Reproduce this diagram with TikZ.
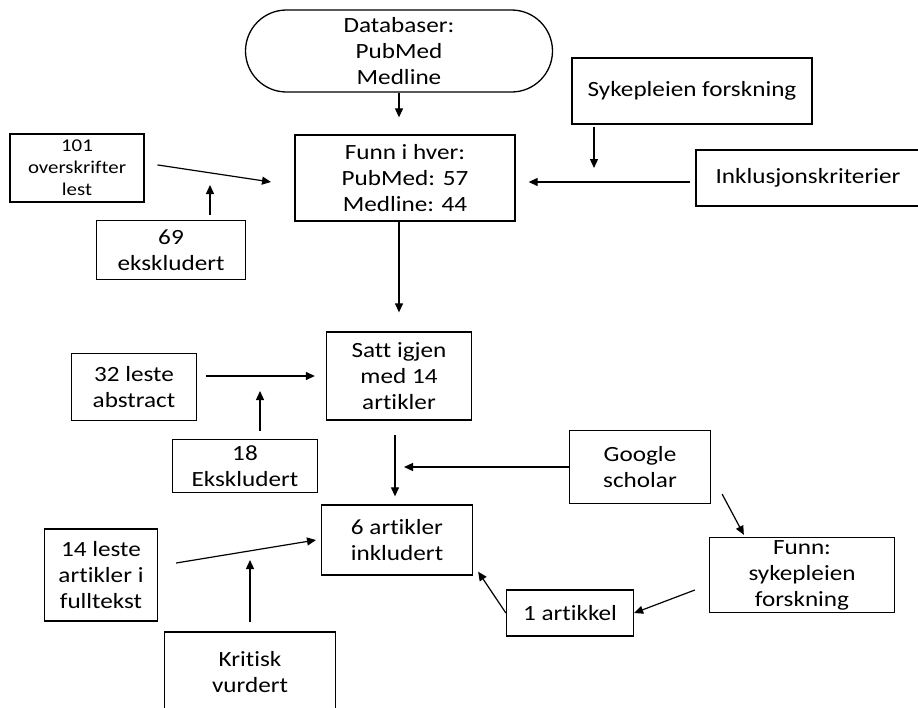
\documentclass[tikz,border=0pt]{standalone}
\usepackage{fontspec}
\setmainfont{Carlito}[FakeStretch=1.16, Ligatures=NoCommon]
\usetikzlibrary{arrows.meta}

\begin{document}
\begin{tikzpicture}[x=1pt, y=-1pt,
        boks/.style={draw, line width=1.3pt, align=center, inner sep=1pt, font=\fontsize{21.7}{26}\selectfont},
        lite/.style={boks, font=\fontsize{18}{22}\selectfont},
        terminal/.style={boks, rounded corners=41pt},
        pil/.style={-{Triangle[length=9pt,width=8pt]}, line width=1.2pt}]
        \useasboundingbox (0,0) rectangle (918,707);
        % databaser og funn
        \node[terminal, minimum width=307pt, minimum height=82pt] (db) at (399,51) {Databaser:\\PubMed\\Medline};
        \node[boks, minimum width=220pt, minimum height=86pt] (funn) at (405,178) {Funn i hver:\\PubMed: 57\\Medline: 44};
        \node[boks, minimum width=240pt, minimum height=66pt] (syk) at (692,91) {Sykepleien forskning};
        \node[boks, minimum width=224pt, minimum height=56pt] (inkl) at (808,178) {Inklusjonskriterier};
        \node[lite, minimum width=134pt, minimum height=68pt] (over) at (77,168) {101\\overskrifter\\lest};
        \node[boks, minimum width=149pt, minimum height=59pt] (eks1) at (171,250) {69\\ekskludert};
        % abstract
        \node[boks, minimum width=145pt, minimum height=88pt] (satt) at (399,376) {Satt igjen\\med 14\\artikler};
        \node[boks, minimum width=125pt, minimum height=67pt] (abs) at (134,387) {32 leste\\abstract};
        \node[boks, minimum width=145pt, minimum height=53pt] (eks2) at (245,466) {18\\Ekskludert};
        % fulltekst
        \node[boks, minimum width=141pt, minimum height=73pt] (google) at (640,467) {Google\\scholar};
        \node[boks, minimum width=151pt, minimum height=70pt] (inkl6) at (397,540) {6 artikler\\inkludert};
        \node[boks, minimum width=113pt, minimum height=92pt] (full) at (101,575) {14 leste\\artikler i\\fulltekst};
        \node[boks, minimum width=171pt, minimum height=80pt] (krit) at (250,672) {Kritisk\\vurdert};
        \node[boks, minimum width=185pt, minimum height=75pt, inner sep=0pt] (funn2) at (802,575) {Funn:\\sykepleien\\forskning};
        \node[boks, minimum width=127pt, minimum height=46pt] (art1) at (570,613) {1 artikkel};

        \coordinate (k1) at (594,168);
        \coordinate (k2) at (271,182);
        \coordinate (k3) at (210,185);
        \coordinate (k4) at (260,391);
        \coordinate (k5) at (404,467);
        \coordinate (k6) at (316,540);
        \coordinate (k7) at (250,560);

        \draw[pil, shorten >=17pt] (db.south) -- (db.south |- funn.north);
        \draw[pil, shorten <=2pt] (syk.south -| k1) -- (k1);
        \draw[pil, shorten <=5pt, shorten >=13pt] ([yshift=-4pt]inkl.west) -- ([yshift=-4pt]inkl.west -| funn.east);
        \draw[pil, shorten <=13pt] ([yshift=5pt]over.east) -- (k2);
        \draw[pil, shorten <=5pt] (eks1.north -| k3) -- (k3);
        \draw[pil, shorten >=19pt] (funn.south -| satt.north) -- (satt.north);
        \draw[pil, shorten <=9pt, shorten >=11pt] (abs.east |- satt.west) -- (satt.west);
        \draw[pil, shorten <=8pt] (eks2.north -| k4) -- (k4);
        \draw[pil, shorten <=14pt, shorten >=8pt] ([xshift=-4pt]satt.south) -- ([xshift=-4pt]satt.south |- inkl6.north);
        \draw[pil] (google.west) -- (k5);
        \draw[pil] ([xshift=18pt,yshift=12pt]full.east) -- (k6);
        \draw[pil, shorten <=9pt] (krit.north) -- (k7);
        \draw[pil] ([xshift=11pt,yshift=10pt]google.south east) -- ([xshift=35pt,yshift=2pt]funn2.north west);
        \draw[pil] ([xshift=-14pt,yshift=-15pt]funn2.west) -- (art1.east);
        \draw[pil] (art1.west) -- ([xshift=5pt,yshift=4pt]inkl6.south east);
    \end{tikzpicture}
\end{document}
